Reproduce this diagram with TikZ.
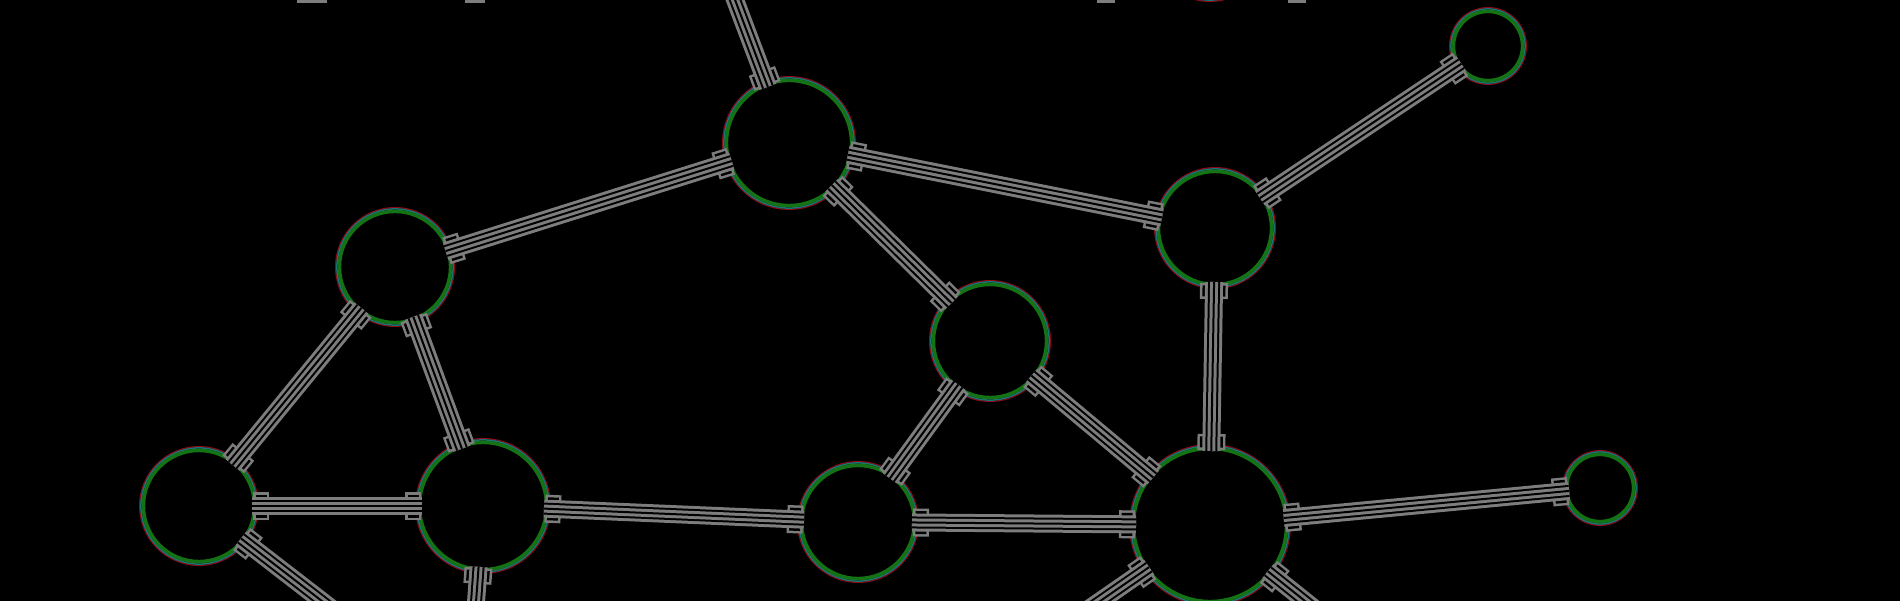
\documentclass[tikz,border=0pt]{standalone}
\usetikzlibrary{calc}
\definecolor{lg}{RGB}{125,125,125}
\definecolor{rred}{RGB}{140,10,20}
\definecolor{rgreen}{RGB}{20,115,20}
\definecolor{rcyan}{RGB}{30,115,120}
\tikzset{
  bandA/.style={lg, line width=18pt},
  bandB/.style={black, line width=12pt},
  bandC/.style={lg, line width=8pt},
  bandD/.style={black, line width=2pt},
  stubA/.style={lg, line width=28pt},
  stubB/.style={black, line width=23pt},
}
\newcommand\ringnode[4]{%
  \coordinate (#1) at (#2,#3);
  \draw[rred, line width=1.2pt] (#1) circle[radius=#4-0.6];
  \draw[rcyan, line width=1.5pt] (#1) circle[radius=#4-1.9];
  \draw[rgreen, line width=3.6pt, fill=black] (#1) circle[radius=#4-4.4];
}
\newcommand\mystub[3]{%
  \pgfmathsetmacro\myqa{#2-6}\pgfmathsetmacro\myqb{#2+10}%
  \pgfmathsetmacro\myqc{#2-3.5}\pgfmathsetmacro\myqd{#2+7.5}%
  \draw[stubA] ($(#1)!\myqa pt!(#3)$) -- ($(#1)!\myqb pt!(#3)$);
  \draw[stubB] ($(#1)!\myqc pt!(#3)$) -- ($(#1)!\myqd pt!(#3)$);
}
\newcommand\myband[2]{%
  \draw[bandA] (#1) -- (#2);
  \draw[bandB] (#1) -- (#2);
  \draw[bandC] (#1) -- (#2);
  \draw[bandD] (#1) -- (#2);
}
\newcommand\myedge[4]{%
  \mystub{#1}{#2}{#3}%
  \mystub{#3}{#4}{#1}%
  \pgfmathsetmacro\myea{#2-7}\pgfmathsetmacro\myeb{#4-7}%
  \coordinate (ea) at ($(#1)!\myea pt!(#3)$);
  \coordinate (eb) at ($(#3)!\myeb pt!(#1)$);
  \myband{ea}{eb}
}
\newcommand\myhalf[3]{%
  \mystub{#1}{#2}{#3}%
  \pgfmathsetmacro\myea{#2-7}%
  \coordinate (ea) at ($(#1)!\myea pt!(#3)$);
  \myband{ea}{#3}
}
\begin{document}
\begin{tikzpicture}[x=1pt,y=-1pt]
\fill[black] (0,0) rectangle (1900,601);
\useasboundingbox (0,0) rectangle (1900,601);
\clip (0,0) rectangle (1900,601);
% nodes
\ringnode{A}{789}{143}{67}
\ringnode{B}{395}{267}{60}
\ringnode{C}{1215}{228}{61}
\ringnode{D}{1488}{46}{39}
\ringnode{E}{990}{341}{61}
\ringnode{F}{199}{506}{60}
\ringnode{G}{483}{506}{68}
\ringnode{H}{858}{522}{61}
\ringnode{I}{1210}{525}{81}
\ringnode{J}{1600}{488}{38}
\ringnode{K}{1210}{-58}{60}
% free ends
\coordinate (Atop) at (717,-48);
\coordinate (Fout) at (340,615);
\coordinate (Gout) at (474,630);
\coordinate (Iout1) at (1080,615);
\coordinate (Iout2) at (1320,613);
% edges
\myedge{A}{67}{B}{60}
\myedge{A}{67}{C}{61}
\myedge{A}{67}{E}{61}
\myedge{C}{61}{D}{39}
\myedge{C}{61}{I}{81}
\myedge{B}{60}{F}{60}
\myedge{B}{60}{G}{68}
\myedge{F}{60}{G}{68}
\myedge{G}{68}{H}{61}
\myedge{H}{61}{E}{61}
\myedge{H}{61}{I}{81}
\myedge{E}{61}{I}{81}
\myedge{I}{81}{J}{38}
\myhalf{A}{67}{Atop}
\myhalf{F}{60}{Fout}
\myhalf{G}{68}{Gout}
\myhalf{I}{81}{Iout1}
\myhalf{I}{81}{Iout2}
% edge ends peeking in at the top border
\fill[lg] (297,0) rectangle (327,3);
\fill[lg] (465,0) rectangle (485,3);
\fill[lg] (1097,0) rectangle (1115,3);
\fill[lg] (1288,0) rectangle (1306,3);
\end{tikzpicture}
\end{document}
